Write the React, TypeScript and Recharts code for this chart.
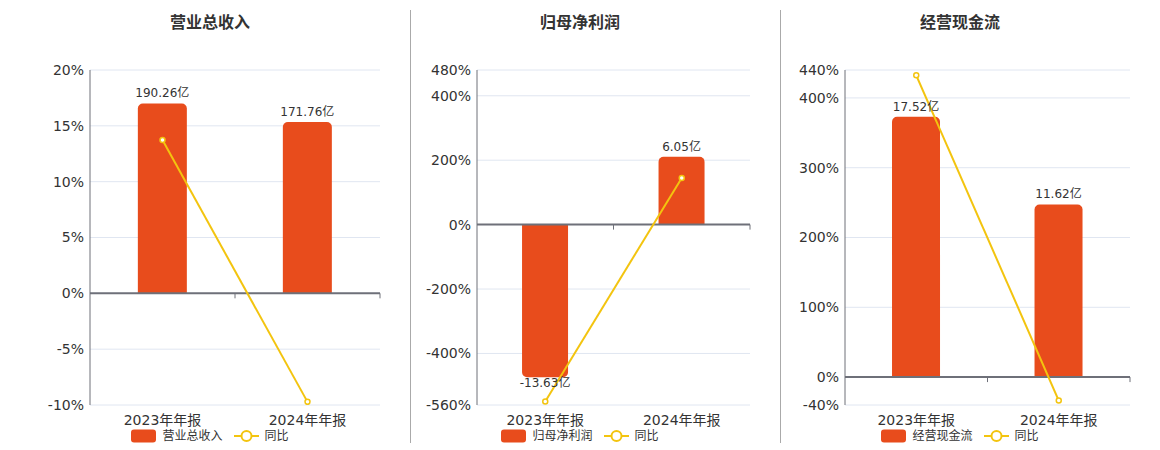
import React from 'react';
import {
  ComposedChart, Bar, Line, XAxis, YAxis, CartesianGrid, ReferenceLine, LabelList, Legend,
} from 'recharts';

const categories = ['2023年年报', '2024年年报'];

const revenueValues = [190.26, 171.76];
const revenueYoy = [13.73, -9.72];
const revenueTicks = [-10, -5, 0, 5, 10, 15, 20];

const profitValues = [-13.63, 6.05];
const profitYoy = [-549, 145];
const profitTicks = [-560, -400, -200, 0, 200, 400, 480];

const cashValues = [17.52, 11.62];
const cashYoy = [432.4, -33.7];
const cashTicks = [-40, 0, 100, 200, 300, 400, 440];

const BAR = '#E84C1C';
const LINE = '#F3C40F';
const FONT = '"DejaVu Sans", "Noto Sans CJK SC", sans-serif';

type PanelCfg = {
  title: string;
  name: string;
  values: number[];
  yoy: number[];
  ticks: number[];
  barDomain: [number, number];
  left: number;
  width: number;
  axisWidth: number;
  marginRight: number;
};

const panels: PanelCfg[] = [
  {
    title: '营业总收入', name: '营业总收入', values: revenueValues, yoy: revenueYoy, ticks: revenueTicks,
    barDomain: [-111.9, 223.8], left: 20, width: 380, axisWidth: 70, marginRight: 20,
  },
  {
    title: '归母净利润', name: '归母净利润', values: profitValues, yoy: profitYoy, ticks: profitTicks,
    barDomain: [-16.1, 13.8], left: 400, width: 360, axisWidth: 77, marginRight: 10,
  },
  {
    title: '经营现金流', name: '经营现金流', values: cashValues, yoy: cashYoy, ticks: cashTicks,
    barDomain: [-1.88, 20.67], left: 780, width: 360, axisWidth: 65, marginRight: 10,
  },
];

const renderBarLabel = (props: any) => {
  const { x, y, width, height, value } = props;
  const nx = Number(x), ny = Number(y), nw = Number(width), nh = Number(height);
  const v = Number(value);
  const top = Math.min(ny, ny + nh);
  const bottom = Math.max(ny, ny + nh);
  const ty = v >= 0 ? top - 6 : bottom + 10;
  return (
    <text x={nx + nw / 2} y={ty} textAnchor="middle" fontSize={12} fill="#333" fontFamily={FONT}>
      {v.toFixed(2)}亿
    </text>
  );
};

const renderZeroTicks = (props: any) => {
  const vb = props.viewBox || {};
  const x = Number(vb.x), y = Number(vb.y), w = Number(vb.width);
  if (!isFinite(x) || !isFinite(y) || !isFinite(w)) return null;
  return (
    <g>
      {[x + w / 2, x + w].map((tx, i) => (
        <line key={i} x1={tx} x2={tx} y1={y} y2={y + 5} stroke="#6E7079" strokeWidth={1} />
      ))}
    </g>
  );
};

const renderLegend = (props: any) => {
  const payload = [...(props.payload || [])].sort(
    (a: any, b: any) => (a.type === 'rect' ? 0 : 1) - (b.type === 'rect' ? 0 : 1),
  );
  return (
    <div style={{ display: 'flex', justifyContent: 'center', alignItems: 'center', fontFamily: FONT, fontSize: 12, color: '#333', height: 14 }}>
      {payload.map((p: any, i: number) => (
        <div key={i} style={{ display: 'flex', alignItems: 'center', marginLeft: i === 0 ? 0 : 11 }}>
          {p.type === 'rect' ? (
            <svg width={25} height={14}>
              <rect x={0} y={0.5} width={25} height={13} rx={3} ry={3} fill={p.color} />
            </svg>
          ) : (
            <svg width={25} height={14}>
              <line x1={0} x2={25} y1={7} y2={7} stroke={p.color} strokeWidth={2} />
              <circle cx={12.5} cy={7} r={5} fill="#fff" stroke={p.color} strokeWidth={2} />
            </svg>
          )}
          <span style={{ marginLeft: 6, lineHeight: '14px' }}>{p.value}</span>
        </div>
      ))}
    </div>
  );
};

const Panel = ({ cfg }: { cfg: PanelCfg }) => {
  const data = categories.map((c, i) => ({ cat: c, value: cfg.values[i], yoy: cfg.yoy[i] }));
  const tickStyle = { fill: '#333', fontSize: 14, fontFamily: FONT };
  return (
    <div style={{ position: 'absolute', left: cfg.left, top: 0 }}>
      <ComposedChart
        width={cfg.width}
        height={450}
        data={data}
        margin={{ top: 70, right: cfg.marginRight, bottom: 15, left: 0 }}
        barCategoryGap="33%"
      >
        <CartesianGrid yAxisId="pct" vertical={false} stroke="#E0E6F1" strokeWidth={1} />
        <XAxis
          dataKey="cat"
          axisLine={false}
          tickLine={false}
          tickSize={0}
          tickMargin={10}
          height={30}
          tick={tickStyle}
          interval={0}
        />
        <YAxis
          yAxisId="pct"
          orientation="left"
          width={cfg.axisWidth}
          domain={[cfg.ticks[0], cfg.ticks[cfg.ticks.length - 1]]}
          ticks={cfg.ticks}
          allowDataOverflow
          tickFormatter={(v: number) => `${v}%`}
          axisLine={{ stroke: '#6E7079', strokeWidth: 1 }}
          tickLine={false}
          tickSize={0}
          tickMargin={6}
          tick={tickStyle}
          interval={0}
        />
        <YAxis yAxisId="bar" orientation="right" hide domain={cfg.barDomain} allowDataOverflow />
        <Bar
          yAxisId="bar"
          dataKey="value"
          name={cfg.name}
          fill={BAR}
          radius={[5, 5, 0, 0]}
          isAnimationActive={false}
          legendType="rect"
        >
          <LabelList dataKey="value" content={renderBarLabel} />
        </Bar>
        <ReferenceLine yAxisId="pct" y={0} stroke="#6E7079" strokeWidth={2} label={renderZeroTicks} />
        <Line
          yAxisId="pct"
          dataKey="yoy"
          name="同比"
          stroke={LINE}
          strokeWidth={2}
          dot={{ r: 2.5, fill: '#fff', stroke: LINE, strokeWidth: 1.5 }}
          activeDot={false}
          isAnimationActive={false}
          legendType="line"
        />
        <Legend
          verticalAlign="middle"
          align="center"
          layout="horizontal"
          width={cfg.width}
          wrapperStyle={{ left: 0, top: 429 }}
          content={renderLegend}
        />
      </ComposedChart>
    </div>
  );
};

export default function App() {
  return (
    <div style={{ position: 'absolute', left: 0, top: 0, width: 1160, height: 450, background: '#fff', fontFamily: FONT }}>
      {panels.map((p, i) => (
        <div
          key={`t${i}`}
          style={{
            position: 'absolute', left: p.left, width: p.width, top: 13, textAlign: 'center',
            fontSize: 16, fontWeight: 'bold', color: '#333', lineHeight: '20px', fontFamily: FONT,
          }}
        >
          {p.title}
        </div>
      ))}
      <div style={{ position: 'absolute', left: 410, top: 10, width: 1, height: 433, background: '#AAAAAA' }} />
      <div style={{ position: 'absolute', left: 780, top: 10, width: 1, height: 433, background: '#AAAAAA' }} />
      {panels.map((p, i) => (
        <Panel key={i} cfg={p} />
      ))}
    </div>
  );
}
